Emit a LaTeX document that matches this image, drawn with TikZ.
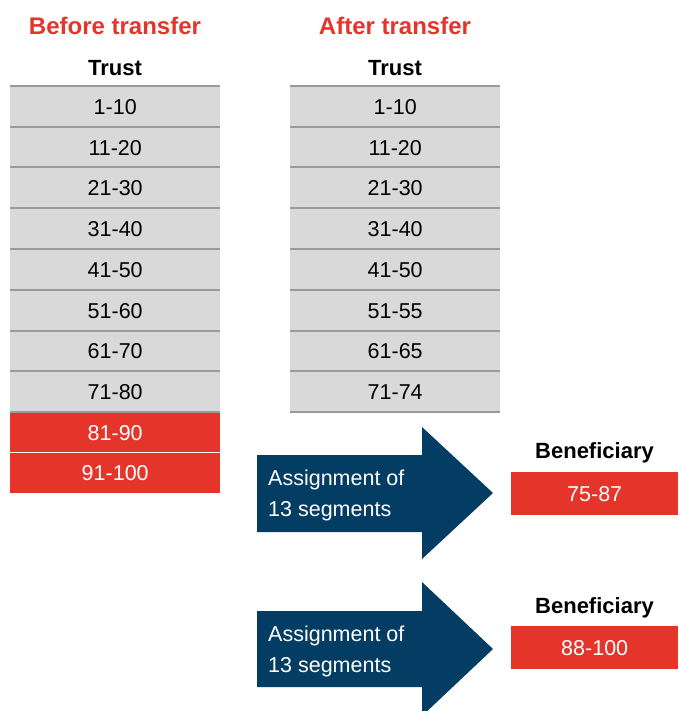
\documentclass[tikz,border=0pt]{standalone}
\usepackage{fontspec}
\setmainfont{Liberation Sans}
\definecolor{tred}{HTML}{E5352B}
\definecolor{tnavy}{HTML}{033D64}
\definecolor{tgray}{HTML}{D9D9D9}
\definecolor{tline}{HTML}{9A9A9A}
\tikzset{
  cell/.style={rectangle, fill=tgray, minimum width=210pt, minimum height=40.75pt, inner sep=0pt, anchor=north west, font=\fontsize{21.5}{21.5}\selectfont, text=black, text height=15.4pt, text depth=0pt},
  redcell/.style={cell, fill=tred, text=white, minimum height=40.5pt},
  sepline/.style={draw=tline, line width=2pt},
  title/.style={font=\bfseries\fontsize{24}{24}\selectfont, text=tred},
  head/.style={font=\bfseries\fontsize{22}{22}\selectfont},
  benbox/.style={rectangle, fill=tred, text=white, minimum width=167pt, minimum height=43pt, inner sep=0pt, anchor=north west, font=\fontsize{21.5}{21.5}\selectfont, text height=15.4pt, text depth=0pt},
  arrowshape/.style={fill=tnavy},
  arrowtext/.style={anchor=west, inner sep=0pt, align=left, text=white, font=\fontsize{21.5}{31}\selectfont}
}
\begin{document}
\begin{tikzpicture}[x=1pt,y=-1pt]
\useasboundingbox (0,0) rectangle (678,711);
% titles
\node[title] (tb) at (115,26) {Before transfer};
\node[title] (ta) at (395,26) {After transfer};
\node[head] (hl) at (115,68) {Trust};
\node[head] (hr) at (395,68) {Trust};
% left table
\foreach \i/\t in {0/1-10,1/11-20,2/21-30,3/31-40,4/41-50,5/51-60,6/61-70,7/71-80}{
  \node[cell] (l\i) at (10,{86+\i*40.75}) {\t};
}
\node[redcell] (l8) at (10,412) {81-90};
\node[redcell] (l9) at (10,452.5) {91-100};
\foreach \i in {0,...,7}{
  \draw[sepline] (l\i.north west) -- (l\i.north east);
}
\draw[sepline] (l7.south west) -- (l7.south east);
\draw[white, line width=1.5pt] (l9.north west) -- (l9.north east);
% right table
\foreach \i/\t in {0/1-10,1/11-20,2/21-30,3/31-40,4/41-50,5/51-55,6/61-65,7/71-74}{
  \node[cell] (r\i) at (290,{86+\i*40.75}) {\t};
}
\foreach \i in {0,...,7}{
  \draw[sepline] (r\i.north west) -- (r\i.north east);
}
\draw[sepline] (r7.south west) -- (r7.south east);
% arrows
\fill[arrowshape] (257,455) -- (422,455) -- (422,427) -- (493,493) -- (422,559) -- (422,532) -- (257,532) -- cycle;
\node[arrowtext] (a1) at (268,495) {Assignment of\\13 segments};
\fill[arrowshape] (257,611) -- (422,611) -- (422,582) -- (493,649) -- (422,716) -- (422,687) -- (257,687) -- cycle;
\node[arrowtext] (a2) at (268,651) {Assignment of\\13 segments};
% beneficiaries
\node[head] (bh1) at (594.5,453) {Beneficiary};
\node[benbox] (b1) at (511,472) {75-87};
\node[head] (bh2) at (594.5,608) {Beneficiary};
\node[benbox] (b2) at (511,626) {88-100};
\end{tikzpicture}
\end{document}
